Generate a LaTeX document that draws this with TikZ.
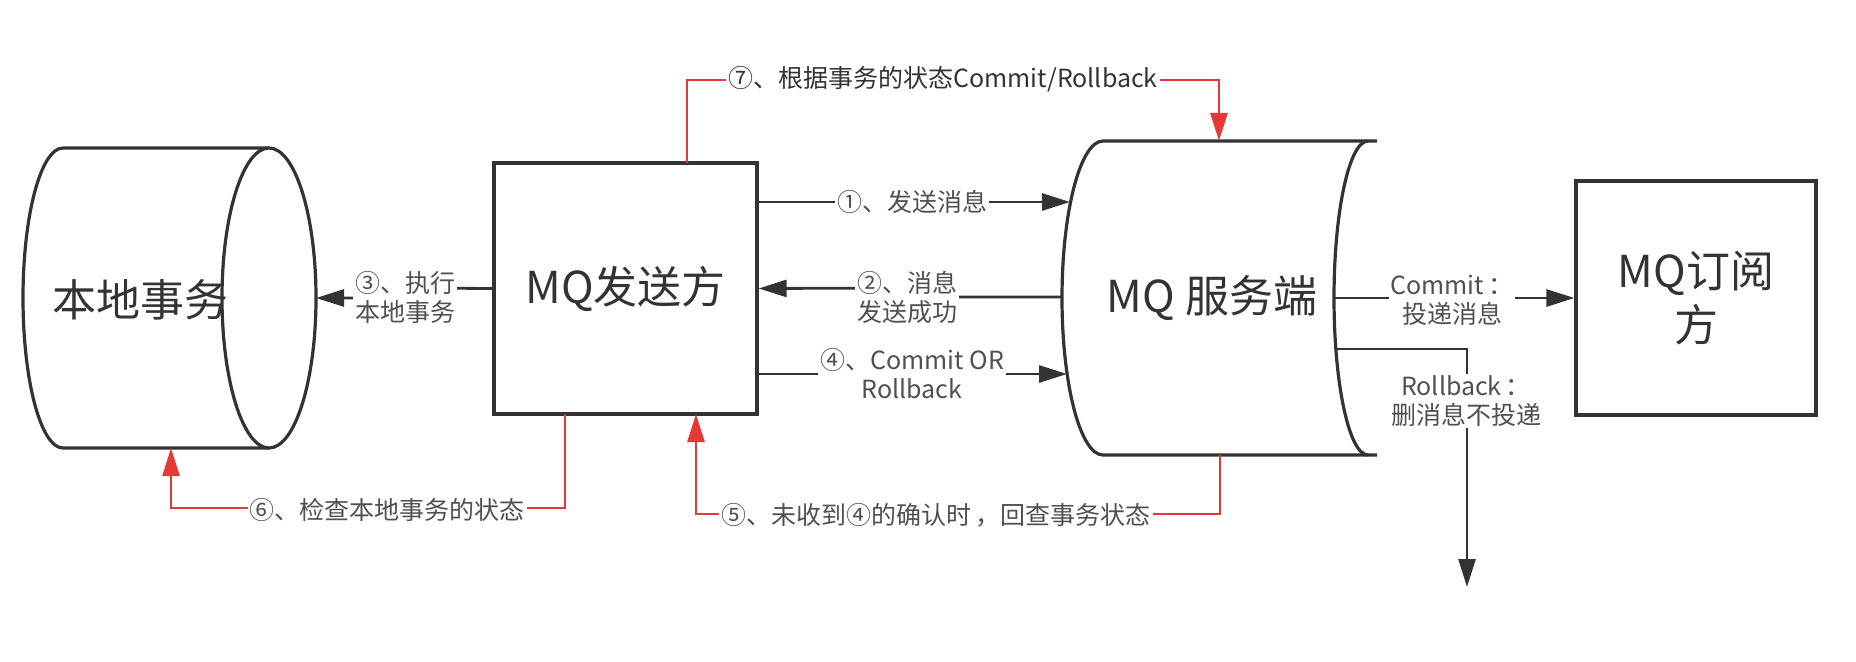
\documentclass[tikz,border=0pt]{standalone}
\usepackage{fontspec}
\setmainfont{Noto Sans CJK SC}
\usetikzlibrary{arrows.meta}
\definecolor{ln}{HTML}{333333}
\definecolor{rd}{HTML}{E53935}
\definecolor{tx}{HTML}{505050}
\begin{document}
\begin{tikzpicture}[x=0.5pt,y=-0.5pt,
  shp/.style={draw=ln, line width=1.6pt, fill=white},
  big/.style={font=\fontsize{22}{27}\selectfont, text=ln, align=center},
  lbl/.style={font=\fontsize{12.5}{14.5}\selectfont, text=tx, fill=white, inner sep=1pt, align=center},
  conn/.style={draw=ln, line width=1.4pt, -{Triangle[length=14pt,width=8.5pt]}},
  rconn/.style={draw=rd, line width=1.4pt, -{Triangle[length=14pt,width=8.5pt]}},
]
\useasboundingbox (0,0) rectangle (1856,662);
% local transaction cylinder
\path[shp] (269,148) -- (63,148) arc[start angle=270,end angle=90,x radius=40,y radius=150] -- (269,448);
\path[shp] (269,298) ellipse[x radius=47,y radius=150];
\node[big] (cyl) at (140,300) {本地事务};
\coordinate (cylE) at (316,298);
\coordinate (cylS) at (171,448);
% sender
\node[shp, big, minimum width=131.5pt, minimum height=125.5pt] (snd) at (625.5,288.5) {MQ发送方};
\coordinate (s7) at (687,163);
\coordinate (s6) at (565,414);
\coordinate (s5) at (696,414);
% server
\path[shp] (1377,141) -- (1103,141) arc[start angle=270,end angle=90,x radius=41,y radius=157] -- (1377,455);
\draw[ln, line width=1.6pt] (1368,141) arc[start angle=270,end angle=90,x radius=34,y radius=157];
\node[big] (srv) at (1212,298) {MQ 服务端};
\coordinate (srv1) at (1070,202);
\coordinate (srvW) at (1062,297);
\coordinate (srv4) at (1067,374);
\coordinate (srvE) at (1334,298);
\coordinate (srvR) at (1336,349);
\coordinate (srvT) at (1219,141);
\coordinate (srvB) at (1220,455);
% subscriber
\node[shp, big, minimum width=120pt, minimum height=117pt] (sub) at (1696,298) {MQ订阅\\方};
\coordinate (drop) at (1467,587);
% black connectors
\draw[conn] (snd.east |- srv1) -- (srv1);
\node[lbl] at (912,202) {①、发送消息};
\draw[conn] (srvW) -- (907,297) -- (907,288) -- (snd.east);
\node[lbl] at (907,297.5) {②、消息\\发送成功};
\draw[conn] (snd.west) -- (405,288) -- (405,298) -- (cylE);
\node[lbl] at (405,297.5) {③、执行\\本地事务};
\draw[conn] (snd.east |- srv4) -- (srv4);
\node[lbl] at (912,374) {④、Commit OR\\Rollback};
\draw[conn] (srvE) -- (sub.west);
\node[lbl] at (1452,300) {Commit\,：\\投递消息};
\draw[conn] (srvR) -| (drop);
\node[lbl] at (1466,401) {Rollback\,：\\删消息不投递};
% red connectors
\draw[rconn] (s7) |- (1219,80) -- (srvT);
\node[lbl, text=ln] at (943,79) {⑦、根据事务的状态Commit/Rollback};
\draw[rconn] (s6) -- (565,508) -| (cylS);
\node[lbl] at (387,510) {⑥、检查本地事务的状态};
\draw[rconn] (srvB) -- (1220,514) -| (s5);
\node[lbl] at (936,515) {⑤、未收到④的确认时\,，回查事务状态};
\end{tikzpicture}
\end{document}
